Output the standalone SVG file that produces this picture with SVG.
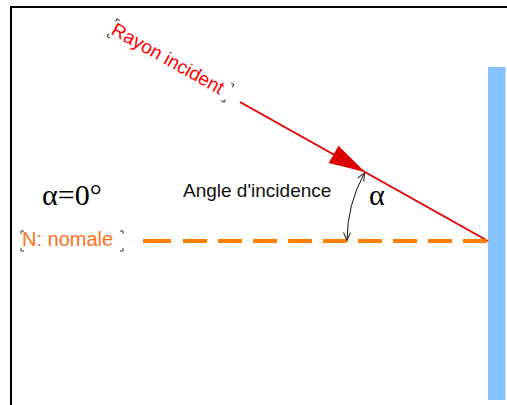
<svg xmlns="http://www.w3.org/2000/svg" width="507" height="405" viewBox="0 0 507 405">
  <defs>
    <style>
      .frame { stroke: #000; stroke-width: 2; fill: none; }
      .ray { stroke: #E30000; stroke-width: 2; fill: none; }
      .normal { stroke: #FF8000; stroke-width: 4; fill: none; }
      .arc { stroke: #111; stroke-width: 1; fill: none; }
      .handle { stroke: #333; stroke-width: 1; fill: none; }
      .sans { font-family: "Liberation Sans", Arial, sans-serif; }
      .serif { font-family: "Liberation Serif", "Times New Roman", serif; }
    </style>
    <marker id="open" viewBox="0 0 10 10" refX="9" refY="5" markerWidth="10" markerHeight="10" markerUnits="userSpaceOnUse" orient="auto-start-reverse">
      <path d="M1,1.5 L9,5 L1,8.5" fill="none" stroke="#222" stroke-width="1"/>
    </marker>
  </defs>

  <g id="frame">
    <line class="frame" x1="11" y1="7" x2="507" y2="7"/>
    <line class="frame" x1="11" y1="6" x2="11" y2="405"/>
  </g>

  <g id="mirror">
    <rect x="488" y="67" width="17.5" height="333" fill="#84C1FF"/>
  </g>

  <g id="connectors">
    <line id="incident-ray" class="ray" x1="240" y1="102" x2="488" y2="241"/>
    <polygon id="ray-arrow" points="365,172 338.5,145.7 328.7,163.1" fill="#DD0000"/>
    <path id="normal-line" class="normal" d="M143,241 H488" stroke-dasharray="28 12 24 11 24 11 24 11 24 11 24 11 24 11 24 11 24 11 24 11"/>
    <path id="angle-arc" class="arc" d="M347,240.5 A141,141 0 0 1 364.6,172.8" marker-start="url(#open)" marker-end="url(#open)"/>
  </g>

  <g id="label-rayon" transform="translate(117,19) rotate(29.3)">
    <text class="sans" x="1" y="16" font-size="19" fill="#FF0000">Rayon incident</text>
    <path class="handle" d="M0,3 V0 H3 M131,0 H134 V3 M0,17 V20 H3 M131,20 H134 V17"/>
  </g>

  <g id="label-angle">
    <text class="sans" x="183" y="197" font-size="19" fill="#111">Angle d'incidence</text>
  </g>

  <g id="label-alpha">
    <text class="serif" x="369" y="205" font-size="30" fill="#000">α</text>
  </g>

  <g id="label-alpha-zero">
    <text class="serif" x="42" y="205" font-size="30" fill="#000">α=0°</text>
  </g>

  <g id="label-normal">
    <text class="sans" x="22" y="246" font-size="20" fill="#FF7020">N: nomale</text>
    <path class="handle" d="M21,234 V231 H24 M120,231 H123 V234 M21,248 V251 H24 M120,251 H123 V248"/>
  </g>
</svg>
